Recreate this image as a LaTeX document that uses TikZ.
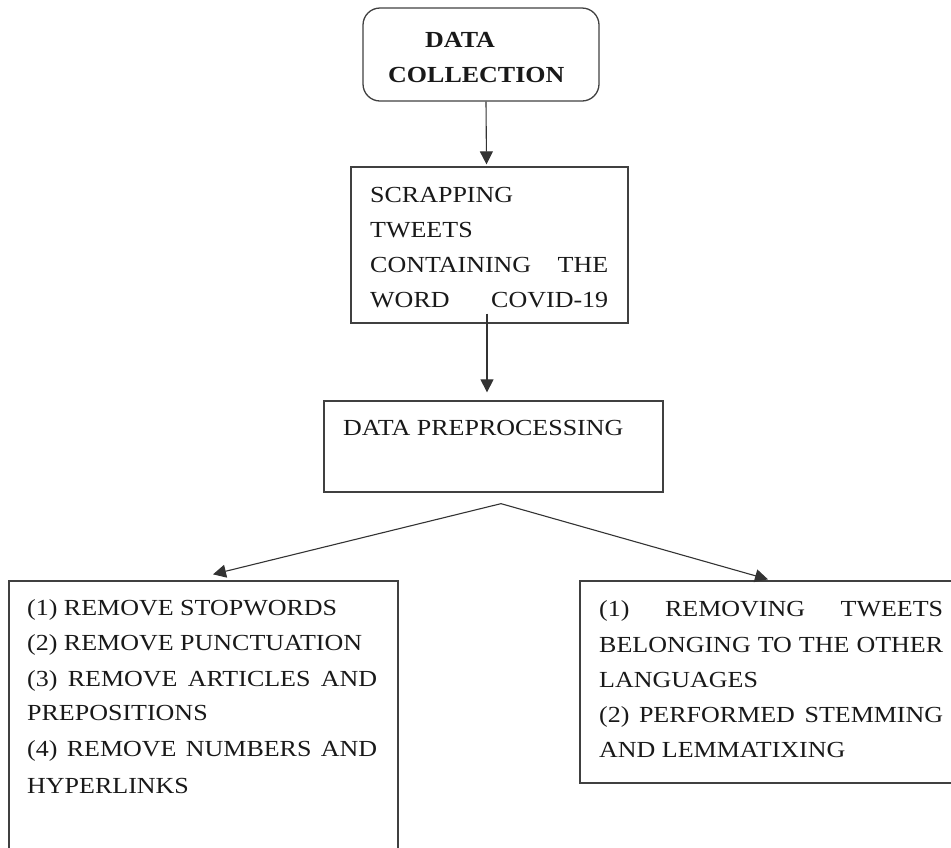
\documentclass[tikz,border=0pt]{standalone}
\usepackage{fontspec}
\setmainfont{Liberation Serif}[FakeStretch=1.13]
\usetikzlibrary{arrows.meta}

\tikzset{
  frame/.style={draw=black!75, line width=1.3pt, inner sep=0pt, fill=none},
  txt/.style={anchor=base west, inner sep=0pt, text=black!90,
              font=\fontsize{23}{27}\selectfont},
  arr/.style={draw=black!80, line width=1.1pt,
              -{Triangle[length=13pt,width=13pt]}},
}

\begin{document}
\begin{tikzpicture}[x=1pt, y=-1pt]
  \useasboundingbox (0,0) rectangle (951,847);
  \clip (0,0) rectangle (951,847);

  % boxes
  \node[frame, rounded corners=17pt, minimum width=236pt, minimum height=93pt] (dc) at (481,54.5) {};
  \node[frame, minimum width=277pt, minimum height=156pt] (sc) at (489.5,245) {};
  \node[frame, minimum width=339pt, minimum height=91pt] (pp) at (493.5,446.5) {};
  \node[frame, minimum width=389pt, minimum height=274pt] (lb) at (203.5,718) {};
  \node[frame, minimum width=378pt, minimum height=202pt] (rb) at (769,682) {};

  % data collection
  \node[txt, font=\fontsize{23}{27}\selectfont\bfseries] (dc1) at (425,47) {DATA};
  \node[txt, font=\fontsize{23}{27}\selectfont\bfseries] (dc2) at (388,82) {COLLECTION};

  % scraping
  \node[txt] (sc1) at (370,202) {SCRAPPING};
  \node[txt] (sc2) at (370,237) {TWEETS};
  \node[txt] (sc3) at (370,272) {\makebox[238pt][s]{CONTAINING THE}};
  \node[txt] (sc4) at (370,307) {\makebox[238pt][s]{WORD COVID-19}};

  % preprocessing
  \node[txt] (pp1) at (343,435) {DATA PREPROCESSING};

  % left branch
  \node[txt] (lb1) at (27,615) {(1) REMOVE STOPWORDS};
  \node[txt] (lb2) at (27,650) {(2) REMOVE PUNCTUATION};
  \node[txt] (lb3) at (27,686) {\makebox[350pt][s]{(3) REMOVE ARTICLES AND}};
  \node[txt] (lb4) at (27,720) {PREPOSITIONS};
  \node[txt] (lb5) at (27,756) {\makebox[350pt][s]{(4) REMOVE NUMBERS AND}};
  \node[txt] (lb6) at (27,793) {HYPERLINKS};

  % right branch
  \node[txt] (rb1) at (599,616) {\makebox[344pt][s]{(1) REMOVING TWEETS}};
  \node[txt] (rb2) at (599,652) {\makebox[344pt][s]{BELONGING TO THE OTHER}};
  \node[txt] (rb3) at (599,687) {LANGUAGES};
  \node[txt] (rb4) at (599,722) {\makebox[344pt][s]{(2) PERFORMED STEMMING}};
  \node[txt] (rb5) at (599,757) {AND LEMMATIXING};

  % connectors
  \draw[arr] ([xshift=5pt]dc.south) -- ([xshift=-3pt,yshift=2pt]sc.north);
  \draw[arr] ([xshift=-2.5pt,yshift=10pt]sc.south) -- ([xshift=-6.5pt,yshift=8pt]pp.north);
  \coordinate (split) at ([xshift=7.5pt,yshift=-11pt]pp.south);
  \draw[arr] (split) -- ([xshift=9.5pt,yshift=6pt]lb.north);
  \draw[arr] (split) -- ([xshift=-1pt,yshift=1pt]rb.north);
\end{tikzpicture}
\end{document}
